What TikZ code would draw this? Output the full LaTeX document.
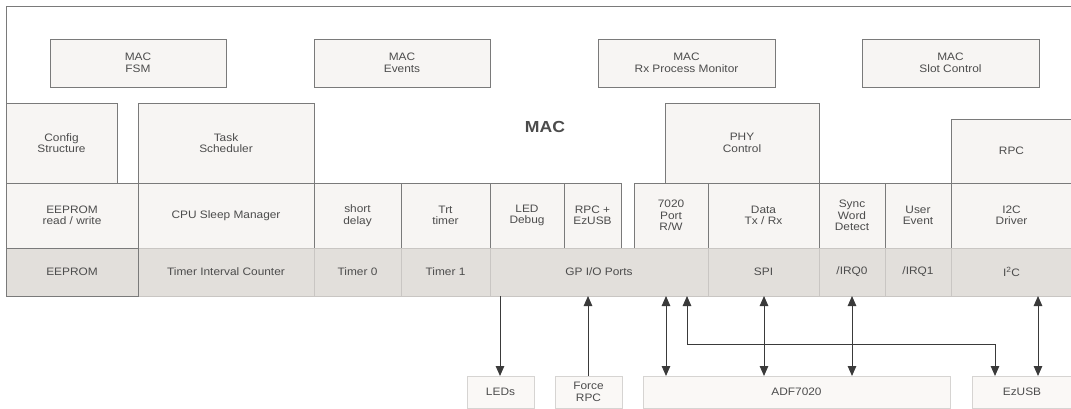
\documentclass[tikz,border=0pt]{standalone}
\usepackage{fontspec}
\setmainfont{Liberation Sans}[FakeStretch=1.1]
\usetikzlibrary{arrows.meta}
\definecolor{bordc}{HTML}{7A7A7A}
\definecolor{lightb}{HTML}{C9C6C3}
\definecolor{cellf}{HTML}{F7F5F3}
\definecolor{grayf}{HTML}{E2DFDB}
\definecolor{txtc}{HTML}{4C4C4C}
\definecolor{arrc}{HTML}{3A3A3A}
\definecolor{extb}{HTML}{D6D4D2}
\definecolor{extf}{HTML}{FAF8F6}
\tikzset{
  base/.style={anchor=north west, inner sep=0pt, outer sep=0pt, align=center,
    text=txtc, font=\fontsize{10.8}{11.5}\selectfont},
  cellbox/.style={base, draw=bordc, line width=0.8pt, fill=cellf},
  hwbox/.style={base, draw=lightb, line width=0.8pt, fill=grayf},
  extbox/.style={base, draw=extb, line width=0.8pt, fill=extf},
  arr/.style={draw=arrc, line width=1pt, -{Triangle[length=10pt,width=8.5pt]}},
  darr/.style={draw=arrc, line width=1pt, {Triangle[length=10pt,width=8.5pt]}-{Triangle[length=10pt,width=8.5pt]}},
}
\newcommand{\cell}[7]{\node[#1, minimum width=#4pt, minimum height=#5pt] (#2) at (#3,#6) {#7};}
\begin{document}
\begin{tikzpicture}[x=1pt,y=-1pt]
\useasboundingbox (0,0) rectangle (1071,409);
\fill[white] (0,0) rectangle (1071,409);
% outer MAC box
\node[base, draw=bordc, line width=0.8pt, minimum width=1066pt, minimum height=242pt] (macbox) at (6,6) {};
\node[text=txtc, font=\fontsize{16}{17}\selectfont\bfseries] (maclbl) at (545,127) {MAC};
% top row
\cell{cellbox}{fsm}{50}{176}{48}{39}{MAC\\FSM}
\cell{cellbox}{events}{314}{176}{48}{39}{MAC\\Events}
\cell{cellbox}{rxpm}{598}{177}{48}{39}{MAC\\Rx Process Monitor}
\cell{cellbox}{slot}{862}{177}{48}{39}{MAC\\Slot Control}
% second row
\cell{cellbox}{config}{6}{111}{80}{103}{Config\\Structure}
\cell{cellbox}{task}{138}{176}{80}{103}{Task\\Scheduler}
\cell{cellbox}{phy}{665}{154}{80}{103}{PHY\\Control}
\cell{cellbox}{rpc}{951}{121}{64}{119}{RPC}
% third row
\cell{cellbox}{eeprw}{6}{132}{65}{183}{EEPROM\\read / write}
\cell{cellbox}{cpu}{138}{176}{65}{183}{CPU Sleep Manager}
\cell{cellbox}{short}{314}{87}{65}{183}{short\\delay}
\cell{cellbox}{trt}{401}{89}{65}{183}{Trt\\timer}
\cell{cellbox}{led}{490}{74}{65}{183}{LED\\Debug}
\cell{cellbox}{rpcez}{564}{57}{65}{183}{RPC +\\EzUSB}
\cell{cellbox}{port}{634}{74}{65}{183}{7020\\Port\\R/W}
\cell{cellbox}{data}{708}{111}{65}{183}{Data\\Tx / Rx}
\cell{cellbox}{sync}{819}{66}{65}{183}{Sync\\Word\\Detect}
\cell{cellbox}{user}{885}{66}{65}{183}{User\\Event}
\cell{cellbox}{i2cdrv}{951}{121}{65}{183}{I2C\\Driver}
% hardware row
\cell{hwbox}{tic}{138}{176}{48}{248}{Timer Interval Counter}
\cell{hwbox}{tzero}{314}{87}{48}{248}{Timer 0}
\cell{hwbox}{tone}{401}{89}{48}{248}{Timer 1}
\cell{hwbox}{gpio}{490}{218}{48}{248}{GP I/O Ports}
\cell{hwbox}{spi}{708}{111}{48}{248}{SPI}
\cell{hwbox}{irqzero}{819}{66}{48}{248}{/IRQ0}
\cell{hwbox}{irqone}{885}{66}{48}{248}{/IRQ1}
\cell{hwbox}{i2c}{951}{121}{48}{248}{I\textsuperscript{2}C}
\node[base, draw=bordc, line width=0.8pt, fill=grayf, minimum width=132pt, minimum height=48pt] (eeprom) at (6,248) {EEPROM};
% external devices
\cell{extbox}{leds}{467}{67}{32}{376}{LEDs}
\cell{extbox}{force}{555}{67}{32}{376}{Force\\RPC}
\cell{extbox}{adf}{643}{307}{32}{376}{ADF7020}
\cell{extbox}{ezusb}{972}{100}{32}{376}{EzUSB}
% connectors
\draw[arr] (500,0 |- gpio.south) -- (500,0 |- leds.north);
\draw[arr] (588,0 |- force.north) -- (588,0 |- gpio.south);
\draw[darr] (666,0 |- gpio.south) -- (666,0 |- adf.north);
\coordinate (bend) at (687,344);
\draw[darr] (687,0 |- gpio.south) -- (bend) -| (995,0 |- ezusb.north);
\draw[darr] (764,0 |- spi.south) -- (764,0 |- adf.north);
\draw[darr] (852,0 |- irqzero.south) -- (852,0 |- adf.north);
\draw[darr] (1038,0 |- i2c.south) -- (1038,0 |- ezusb.north);
\end{tikzpicture}
\end{document}
